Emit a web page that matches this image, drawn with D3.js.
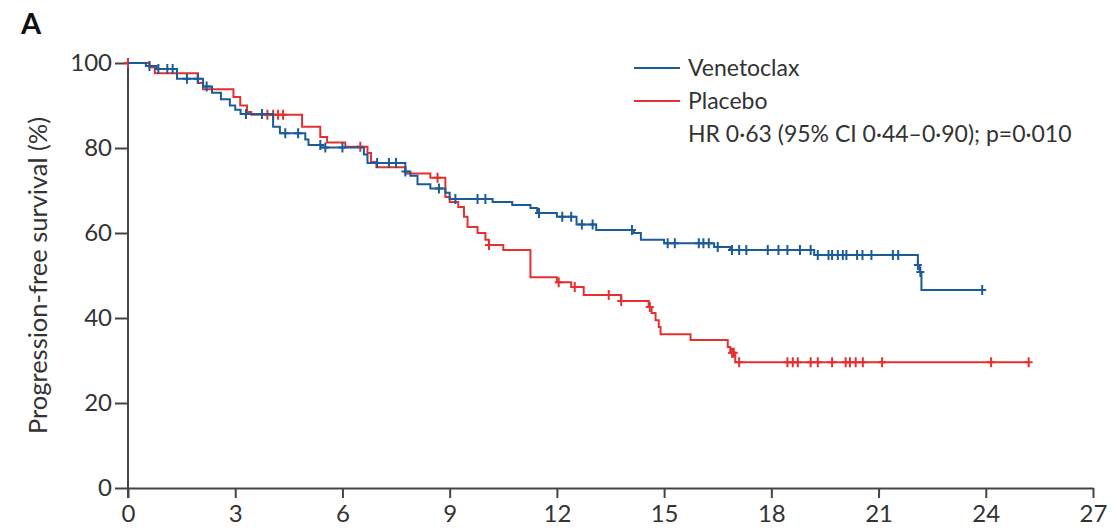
<!DOCTYPE html>
<html>
<head>
<meta charset="utf-8">
<script src="https://cdn.jsdelivr.net/npm/d3@7"></script>
<style>
  body { margin: 0; background: #fff; }
  text { font-family: Lato, "Open Sans", sans-serif; fill: #333; }
</style>
</head>
<body>
<div id="km"></div>
<script>
// data: step points [months, % surviving after the step]
var venTimes = [0, 0.5, 0.8, 1.37, 2.1, 2.35, 2.6, 2.85, 3.0, 3.15, 4.06, 4.25, 4.96, 5.05, 5.4,
    6.6, 6.7, 7.76, 7.9, 8.1, 8.46, 8.88, 9.0, 10.2, 10.75, 11.26, 11.45, 12.0, 12.55, 13.1,
    14.15, 14.35, 15.0, 16.4, 16.85, 19.2, 22.1, 22.15, 22.2];
var venSurv = [100, 99.3, 98.6, 96.3, 94.5, 93, 91.5, 90, 89, 88, 85, 83.5, 82, 80.7, 80.1,
    78.5, 76.5, 74.5, 73.5, 71.5, 70.5, 69.5, 68, 67.3, 66.6, 65.9, 64.7, 63.8, 62, 60.7,
    60, 58.4, 57.6, 56.7, 56, 54.8, 52.5, 50.8, 46.6];
var venEnd = 23.9;
var venCensor = [0.6, 0.85, 1.1, 1.25, 1.65, 1.95, 2.2, 3.3, 3.75, 4.4, 4.76, 5.38, 5.52, 6.0,
    6.97, 7.3, 7.5, 7.76, 8.7, 9.16, 9.78, 10.0, 11.5, 12.15, 12.4, 12.7, 13.0, 14.1, 15.1, 15.3,
    15.97, 16.1, 16.25, 16.5, 16.9, 17.1, 17.3, 17.9, 18.2, 18.45, 18.8, 19.1, 19.3, 19.6, 19.7,
    19.86, 20.0, 20.1, 20.4, 20.55, 20.8, 21.4, 21.55, 22.1, 22.17, 23.9];

var plaTimes = [0, 0.6, 0.75, 1.96, 2.1, 2.95, 3.14, 3.33, 3.45, 4.87, 5.38, 5.57, 6.08, 6.7,
    6.8, 6.95, 7.76, 8.46, 8.88, 9.0, 9.24, 9.4, 9.5, 9.78, 10.0, 10.1, 10.5, 11.26, 12.0, 12.4,
    12.75, 13.8, 14.57, 14.65, 14.76, 14.85, 14.9, 15.74, 16.78, 16.85, 16.99];
var plaSurv = [100, 99, 97.6, 95.3, 93.8, 92, 90, 88.5, 87.8, 85, 82.6, 81.3, 80.3, 78.8,
    76.7, 75.5, 74, 73, 68.5, 67.3, 66.1, 63.8, 61.4, 60, 58.4, 57.2, 56, 49.6, 48.4, 47.3,
    45.4, 44, 42.6, 41.2, 39.5, 37.9, 36.2, 34.8, 33.2, 31.8, 29.6];
var plaEnd = 25.2;
var plaCensor = [0, 3.9, 4.06, 4.2, 4.34, 6.5, 8.66, 10.1, 12.05, 12.5, 13.45, 13.8, 14.6, 16.9,
    16.95, 17.1, 18.45, 18.6, 18.74, 19.1, 19.3, 19.7, 20.08, 20.2, 20.36, 20.56, 21.1, 24.15, 25.2];

var xTicks = [0, 3, 6, 9, 12, 15, 18, 21, 24, 27];
var yTicks = [0, 20, 40, 60, 80, 100];
var legendLabels = ["Venetoclax", "Placebo"];
var statText = "HR 0\u00b763 (95% CI 0\u00b744\u20130\u00b790); p=0\u00b7010";

var blue = "#1b5c98", red = "#e2322f";

// dimensions
var W = 1117, H = 530;
var margin = {top: 63, right: 24, bottom: 42, left: 128};

var svg = d3.select("#km").append("svg")
    .attr("width", W)
    .attr("height", H);

var x = d3.scaleLinear().domain([0, 27]).range([margin.left, W - margin.right]);
var y = d3.scaleLinear().domain([0, 100]).range([H - margin.bottom, margin.top]);

// axes
var xAxis = svg.append("g")
    .attr("transform", "translate(0," + y(0) + ")")
    .call(d3.axisBottom(x).tickValues(xTicks).tickSize(10).tickSizeOuter(0).tickPadding(7));
var yAxis = svg.append("g")
    .attr("transform", "translate(" + x(0) + ",0)")
    .call(d3.axisLeft(y).tickValues(yTicks).tickSize(13).tickSizeOuter(0).tickPadding(3));

[xAxis, yAxis].forEach(function(g) {
    g.select(".domain").attr("stroke", "#444").attr("stroke-width", 2);
    g.selectAll(".tick line").attr("stroke", "#444").attr("stroke-width", 2);
    g.selectAll(".tick text").attr("fill", "#333").style("font-size", "24px")
        .style("font-family", "Lato, sans-serif");
});
// y axis runs down to the x tick at 0
yAxis.select(".domain").attr("d", "M0," + y(100) + "V" + (y(0) + 10));

// y label
svg.append("text")
    .attr("transform", "translate(47," + ((y(0) + y(100)) / 2) + ") rotate(-90)")
    .attr("text-anchor", "middle")
    .style("font-size", "25.5px")
    .text("Progression-free survival (%)");

// panel letter
svg.append("text")
    .attr("x", 21).attr("y", 34)
    .style("font-size", "29px")
    .style("font-weight", "bold")
    .style("fill", "#111")
    .text("A");

// step curves
function stepData(times, surv, end) {
    var pts = times.map(function(t, i) { return [t, surv[i]]; });
    pts.push([end, surv[surv.length - 1]]);
    return pts;
}
function survAt(times, surv, t) {
    var i = d3.bisectRight(times, t) - 1;
    return surv[Math.max(i, 0)];
}
var line = d3.line()
    .x(function(d) { return x(d[0]); })
    .y(function(d) { return y(d[1]); })
    .curve(d3.curveStepAfter);

var groups = [
    {times: plaTimes, surv: plaSurv, end: plaEnd, censor: plaCensor, color: red},
    {times: venTimes, surv: venSurv, end: venEnd, censor: venCensor, color: blue}
];

groups.forEach(function(g) {
    svg.append("path")
        .datum(stepData(g.times, g.surv, g.end))
        .attr("fill", "none")
        .attr("stroke", g.color)
        .attr("stroke-width", 2)
        .attr("d", line);

    // censor marks (+)
    svg.selectAll(null)
        .data(g.censor)
        .enter()
        .append("path")
        .attr("d", function(t) {
            var px = x(t), py = y(survAt(g.times, g.surv, t));
            return "M" + px + "," + (py - 5) + "V" + (py + 5) +
                "M" + (px - 4) + "," + py + "H" + (px + 4);
        })
        .attr("stroke", g.color)
        .attr("stroke-width", 2);
});

// legend
var leg = svg.append("g");
legendLabels.forEach(function(lab, i) {
    var ly = 68 + i * 33;
    leg.append("line")
        .attr("x1", 634).attr("x2", 680)
        .attr("y1", ly).attr("y2", ly)
        .attr("stroke", i === 0 ? blue : red)
        .attr("stroke-width", 2);
    leg.append("text")
        .attr("x", 688).attr("y", ly + 8)
        .style("font-size", "23px")
        .text(lab);
});
leg.append("text")
    .attr("x", 688).attr("y", 142)
    .style("font-size", "23px")
    .text(statText);
</script>
</body>
</html>
